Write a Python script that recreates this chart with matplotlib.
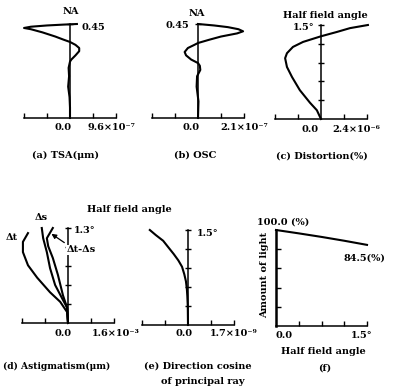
import numpy as np
import matplotlib.pyplot as plt

# === Values ===
# (a) transverse spherical aberration, x in units of 9.6e-7 um
na_a = [0.0, 0.05, 0.10, 0.15, 0.20, 0.24, 0.27, 0.28, 0.30, 0.32, 0.335, 0.35, 0.364,
        0.375, 0.39, 0.41, 0.425, 0.431, 0.437, 0.443, 0.447, 0.45]
tsa = [0.0, 0.0, -0.01, -0.04, -0.02, -0.03, 0.0, 0.03, 0.12, 0.20, 0.20, 0.12, 0.0,
       -0.14, -0.32, -0.60, -0.85, -1.0, -0.85, -0.50, -0.15, 0.15]

# (b) offence against sine condition, x in units of 2.1e-7
na_b = [0.0, 0.08, 0.15, 0.20, 0.23, 0.25, 0.263, 0.28, 0.30, 0.316, 0.335, 0.35, 0.359,
        0.375, 0.39, 0.405, 0.415, 0.425, 0.435, 0.443, 0.45]
osc = [0.0, 0.01, -0.03, -0.02, 0.05, 0.04, 0.0, -0.15, -0.26, -0.29, -0.22, -0.08, 0.0,
       0.25, 0.50, 0.85, 0.98, 0.88, 0.65, 0.35, 0.0]

# (c) distortion, x in units of 2.4e-6 %
ang_c = [0.0, 0.03, 0.14, 0.26, 0.46, 0.67, 0.83, 0.97, 1.05, 1.15, 1.23, 1.32, 1.39,
         1.45, 1.50]
dist = [0.0, -0.02, -0.09, -0.24, -0.46, -0.63, -0.74, -0.78, -0.74, -0.61, -0.39, 0.0,
        0.35, 0.63, 1.02]

# (d) astigmatism, x in units of 1.6e-3 um
ang_dt = [0.0, 0.15, 0.29, 0.42, 0.62, 0.79, 0.97, 1.11, 1.23]
d_t = [0.0, -0.02, -0.17, -0.39, -0.67, -0.87, -0.98, -0.98, -0.87]
ang_ds = [0.0, 0.21, 0.34, 0.52, 0.75, 0.97, 1.16, 1.30]
d_s = [0.0, -0.02, -0.13, -0.28, -0.39, -0.46, -0.54, -0.57]
ang_dts = [0.0, 0.21, 0.38, 0.66, 0.89, 1.05, 1.16, 1.30]
d_ts = [0.0, -0.02, -0.11, -0.22, -0.33, -0.43, -0.46, -0.33]

# (e) direction cosine of principal ray, x in units of 1.7e-9
ang_e = [0.0, 0.30, 0.46, 0.57, 0.69, 0.80, 0.92, 1.02, 1.12, 1.22, 1.33, 1.42, 1.50]
dcos = [0.0, -0.005, -0.015, -0.025, -0.045, -0.08, -0.13, -0.21, -0.31, -0.42, -0.54,
        -0.70, -0.83]

# (f) relative amount of light
ang_f = [0.0, 0.375, 0.75, 1.125, 1.5]
light = [100.0, 96.5, 92.8, 88.8, 84.5]

W, H = 394, 392
plt.rcParams['font.family'] = 'DejaVu Serif'
plt.rcParams['font.weight'] = 'bold'
fig = plt.figure(figsize=(W / 100, H / 100), dpi=100)
FS = 7.0


def px_axes(x0, x1, top, bottom):
    return fig.add_axes([x0 / W, 1 - bottom / H, (x1 - x0) / W, (bottom - top) / H])


def ptext(x, y, s, ha='center', **kw):
    return fig.text(x / W, 1 - y / H, s, ha=ha, va='center', fontsize=kw.pop('fontsize', FS),
                    fontweight='bold', **kw)


def aberration_axes(x0, x1, top, bottom, ytop, yticks):
    ax = px_axes(x0, x1, top, bottom)
    ax.set_xlim(-1, 1)
    ax.set_ylim(0, ytop)
    for s in ['top', 'right']:
        ax.spines[s].set_visible(False)
    ax.spines['left'].set_position(('data', 0))
    ax.spines['bottom'].set_position(('data', 0))
    ax.spines['left'].set_linewidth(1.1)
    ax.spines['bottom'].set_linewidth(1.1)
    ax.set_xticks([-1, -0.5, 0.5, 1])
    ax.set_yticks(yticks)
    ax.tick_params(axis='x', direction='in', length=3.5, width=1, labelbottom=False)
    ax.tick_params(axis='y', direction='inout', length=5, width=1, labelleft=False)
    ax.patch.set_alpha(0)
    return ax


LW = 1.5

# (a)
ax = aberration_axes(24, 116, 24, 118, 0.45, [0.45])
ax.plot(tsa, na_a, color='k', lw=LW, clip_on=False)
ptext(71, 12, 'NA')
ptext(82, 27, '0.45', ha='left')
ptext(72, 128, '0.0', ha='right')
ptext(88, 128, '9.6×10⁻⁷', ha='left')
ptext(65, 155, '(a) TSA(μm)')

# (b)
ax = aberration_axes(152, 244, 24, 118, 0.45, [0.45])
ax.plot(osc, na_b, color='k', lw=LW, clip_on=False)
ptext(197, 13, 'NA')
ptext(189, 26, '0.45', ha='right')
ptext(200, 128, '0.0', ha='right')
ptext(220, 128, '2.1×10⁻⁷', ha='left')
ptext(195, 155, '(b) OSC')

# (c)
ax = aberration_axes(275, 367, 25, 119, 1.5, [0.3, 0.6, 0.9, 1.2, 1.5])
ax.plot(dist, ang_c, color='k', lw=LW, clip_on=False)
ptext(325, 15, 'Half field angle')
ptext(314, 28, '1.5°', ha='right')
ptext(319, 129, '0.0', ha='right')
ptext(332, 129, '2.4×10⁻⁶', ha='left')
ptext(322, 156, '(c) Distortion(%)')

# (d)
ax = aberration_axes(22, 114, 228, 323, 1.3, [0.26, 0.52, 0.78, 1.04, 1.3])
ax.plot(d_t, ang_dt, color='k', lw=LW, clip_on=False)
ax.plot(d_s, ang_ds, color='k', lw=LW, clip_on=False)
ax.plot(d_ts, ang_dts, color='k', lw=LW, clip_on=False)
ptext(129, 210, 'Half field angle')
ptext(12, 238, 'Δt')
ptext(41, 218, 'Δs')
ptext(81, 250, 'Δt-Δs', bbox=dict(facecolor='white', edgecolor='none', pad=0.3))
ax.annotate('', xy=(-0.36, 1.22), xytext=(-0.08, 1.10),
            arrowprops=dict(arrowstyle='-|>', lw=0.9, color='k', mutation_scale=7,
                            shrinkA=0, shrinkB=0))
ptext(74, 230, '1.3°', ha='left')
ptext(72, 333, '0.0', ha='right')
ptext(92, 334, '1.6×10⁻³', ha='left')
ptext(3, 366, '(d) Astigmatism(μm)', ha='left', fontsize=6.6)

# (e)
ax = aberration_axes(142, 234, 230, 325, 1.5, [0.3, 0.6, 0.9, 1.2, 1.5])
ax.plot(dcos, ang_e, color='k', lw=LW, clip_on=False)
ptext(197, 233, '1.5°', ha='left')
ptext(193, 334, '0.0', ha='right')
ptext(210, 334, '1.7×10⁻⁹', ha='left')
ptext(198, 366, '(e) Direction cosine')
ptext(203, 382, 'of principal ray')

# (f)
ax = px_axes(276, 367, 230, 326)
ax.set_xlim(0, 1.5)
ax.set_ylim(0, 100)
for s in ['top', 'right']:
    ax.spines[s].set_visible(False)
ax.spines['left'].set_linewidth(1.8)
ax.spines['bottom'].set_linewidth(1.1)
ax.set_xticks([0.375, 0.75, 1.125, 1.5])
ax.set_yticks([20, 40, 60, 80])
ax.tick_params(axis='both', direction='in', length=3.5, width=1,
               labelbottom=False, labelleft=False)
ax.patch.set_alpha(0)
ax.plot(ang_f, light, color='k', lw=LW, clip_on=False)
ptext(283, 222, '100.0 (%)')
ptext(343, 258, '84.5(%)', ha='left')
fig.text(265 / W, 1 - 275 / H, 'Amount of light', rotation=90, ha='center', va='center',
         fontsize=FS, fontweight='bold')
ptext(275, 336, '0.0', ha='left')
ptext(362, 336, '1.5°')
ptext(323, 352, 'Half field angle')
ptext(325, 368, '(f)')

fig.savefig('out.png', dpi=100)
